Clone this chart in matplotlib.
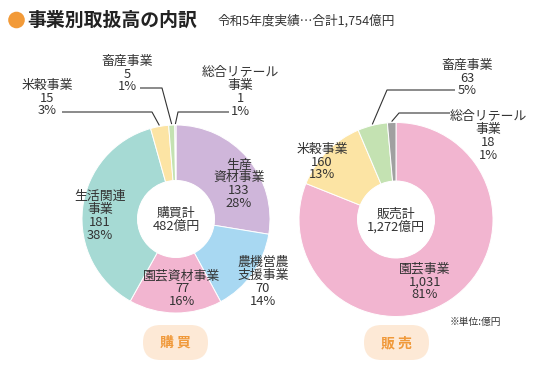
import numpy as np
import matplotlib.pyplot as plt
from matplotlib.patches import FancyBboxPatch, Circle

plt.rcParams['font.family'] = ['Noto Sans CJK JP', 'DejaVu Sans']

W, H = 538, 369

# ── データ ─────────────────────────────────────────────
buy_labels = ["生産\n資材事業", "農機営農\n支援事業", "園芸資材事業", "生活関連\n事業",
              "米穀事業", "畜産事業", "総合リテール\n事業"]
buy_values = [133, 70, 77, 181, 15, 5, 1]
buy_pcts = [28, 14, 16, 38, 3, 1, 1]
buy_colors = ["#cfb6da", "#a8d8f2", "#f2b5d0", "#a6dad4", "#fce4a4", "#c4e2b2", "#c4c4c4"]

sell_labels = ["園芸事業", "米穀事業", "畜産事業", "総合リテール\n事業"]
sell_values = [1031, 160, 63, 18]
sell_pcts = [81, 13, 5, 1]
sell_colors = ["#f2b5d0", "#fce4a4", "#c4e2b2", "#a0a0a0"]

grand_total = 1754

# ── レイアウト（画像ピクセル座標, y は上から） ───────────
buy_center, buy_r = (176, 219), 94
sell_center, sell_r = (396, 219.5), 97
hole_r = 38.5

buy_text_xy = [(239, 184), (263, 282), (182, 289), (100, 216),
               (47, 98), (127, 74), (240, 92)]
sell_text_xy = [(425, 282), (322, 162), (467, 78), (488, 136)]

# 引出線: index -> (始点, 折れ点)
buy_leaders = {4: ((62, 112), (152, 112)),
               5: ((140, 88), (162, 88)),
               6: ((229, 112), (178, 112))}
sell_leaders = {2: ((455, 90), (387, 90)),
                3: ((450, 113), (399, 113))}

TXT = "#333333"

fig = plt.figure(figsize=(W / 100, H / 100), dpi=100)
ax = fig.add_axes([0, 0, 1, 1])


def donut(values, colors, center, r, labels, pcts, text_xy, leaders, title):
    # y 軸を反転して使うので startangle=-90 / counterclock=True で「上から時計回り」
    ax.pie(values, colors=colors, center=center, radius=r,
           startangle=-90, counterclock=True,
           wedgeprops=dict(width=r - hole_r, edgecolor="white", linewidth=0.7))
    ax.add_patch(Circle(center, hole_r, facecolor="white", edgecolor="none", zorder=3))
    total = sum(values)
    ax.text(center[0], center[1] + 1, f"{title}\n{total:,}億円", ha="center", va="center",
            fontsize=9.3, color=TXT, linespacing=1.0, zorder=4)
    for lab, v, p, (x, y) in zip(labels, values, pcts, text_xy):
        ax.text(x, y, f"{lab}\n{v:,}\n{p}%", ha="center", va="center",
                fontsize=9.3, color=TXT, linespacing=0.98, zorder=4)
    cum = np.cumsum([0] + list(values))
    for i, (p0, p1) in leaders.items():
        a = np.deg2rad(360 * (cum[i] + values[i] / 2) / total)
        tip = (center[0] + (r + 1) * np.sin(a), center[1] - (r + 1) * np.cos(a))
        ax.plot([p0[0], p1[0], tip[0]], [p0[1], p1[1], tip[1]],
                color=TXT, lw=0.8, solid_capstyle="butt", zorder=4)


donut(buy_values, buy_colors, buy_center, buy_r, buy_labels, buy_pcts,
      buy_text_xy, buy_leaders, "購買計")
donut(sell_values, sell_colors, sell_center, sell_r, sell_labels, sell_pcts,
      sell_text_xy, sell_leaders, "販売計")

# タイトル
ax.add_patch(Circle((16.5, 20), 8.3, facecolor="#f29a38", edgecolor="none"))
ax.text(27, 20, "事業別取扱高の内訳", ha="left", va="center",
        fontsize=13.6, fontweight="bold", color="#222222")
ax.text(218, 21, f"令和5年度実績…合計{grand_total:,}億円", ha="left", va="center",
        fontsize=9.1, color=TXT)

ax.text(475, 322, "※単位:億円", ha="center", va="center", fontsize=7, color=TXT)

# 購買 / 販売 ボタン
for cx, lab in [(175.5, "購 買"), (396.5, "販 売")]:
    ax.add_patch(FancyBboxPatch((cx - 32.5, 325), 65, 35,
                                boxstyle="round,pad=0,rounding_size=17.5",
                                facecolor="#fde9d6", edgecolor="none"))
    ax.text(cx, 343, lab, ha="center", va="center", fontsize=10,
            fontweight="bold", color="#f0993a")

ax.set_xlim(0, W)
ax.set_ylim(H, 0)
ax.set_aspect("auto")
ax.axis("off")

fig.savefig("out.png", dpi=100, facecolor="white")
